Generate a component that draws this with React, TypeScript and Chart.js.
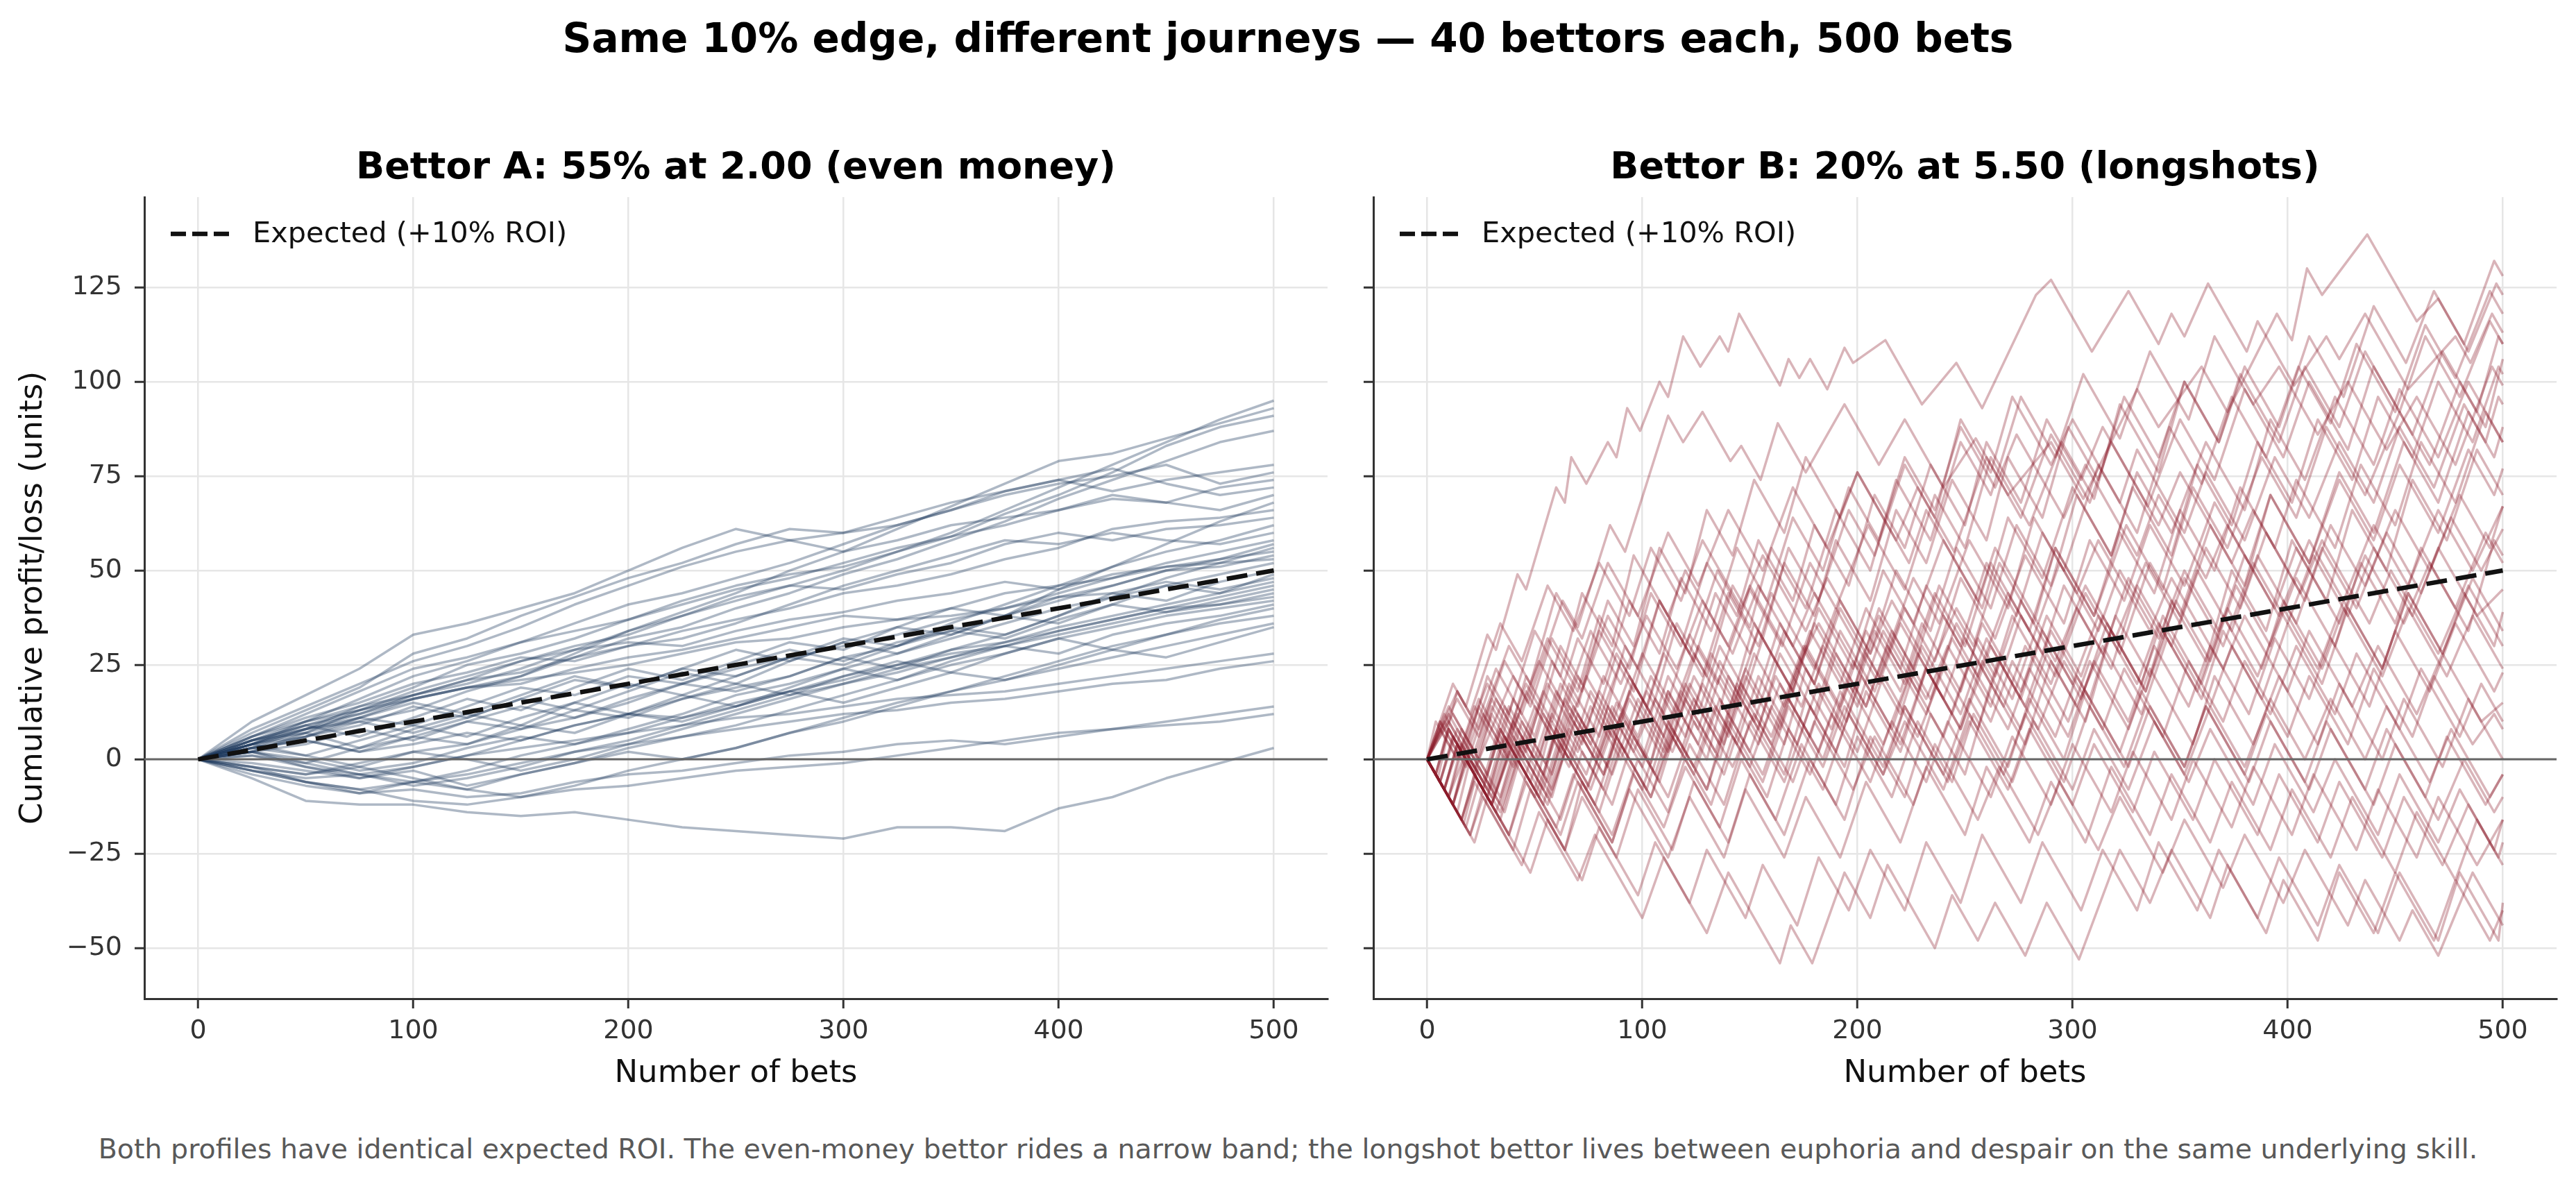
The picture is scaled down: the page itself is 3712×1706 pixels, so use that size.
import React, { useEffect, useRef } from "react";
import { Chart, registerables } from "chart.js";

Chart.register(...registerables);

const FONT = "'DejaVu Sans', 'Liberation Sans', Arial, sans-serif";

// ---------- text ----------
const SUPTITLE = "Same 10% edge, different journeys \u2014 40 bettors each, 500 bets";
const TITLE_A = "Bettor A: 55% at 2.00 (even money)";
const TITLE_B = "Bettor B: 20% at 5.50 (longshots)";
const X_LABEL = "Number of bets";
const Y_LABEL = "Cumulative profit/loss (units)";
const LEGEND_LABEL = "Expected (+10% ROI)";
const FOOTER =
  "Both profiles have identical expected ROI. The even-money bettor rides a narrow band; the longshot bettor lives between euphoria and despair on the same underlying skill.";

// ---------- axes ----------
const xTicks = [0, 100, 200, 300, 400, 500];
const yTicks = [-50, -25, 0, 25, 50, 75, 100, 125];
const xLimits = [-25, 525];
const yLimits = [-63.4, 148.9];

// ---------- expected line ----------
const expectedBets = [0, 500];
const expectedProfit = [0, 50];

// ---------- Bettor A (even money): profit read every 25 bets ----------
const betsA = [0, 25, 50, 75, 100, 125, 150, 175, 200, 225, 250, 275, 300, 325, 350, 375, 400, 425, 450, 475, 500];
const pathsA = [
  [0, 4, 9, 12, 17, 21, 26, 30, 33, 38, 42, 46, 50, 55, 60, 66, 72, 78, 84, 90, 95],
  [0, 3, 6, 11, 16, 19, 22, 28, 34, 39, 44, 50, 55, 61, 67, 73, 79, 81, 85, 89, 93],
  [0, 6, 12, 18, 24, 27, 31, 34, 37, 41, 45, 48, 52, 56, 59, 65, 70, 76, 83, 88, 91],
  [0, 5, 8, 10, 13, 18, 22, 27, 32, 35, 40, 44, 49, 53, 58, 63, 69, 74, 79, 84, 87],
  [0, 8, 14, 20, 26, 30, 35, 41, 46, 51, 55, 58, 60, 64, 68, 71, 74, 71, 74, 76, 78],
  [0, 7, 13, 19, 28, 32, 38, 43, 48, 52, 57, 61, 60, 62, 66, 70, 73, 75, 78, 73, 76],
  [0, 10, 17, 24, 33, 36, 40, 44, 50, 56, 61, 58, 55, 58, 62, 64, 66, 70, 68, 72, 74],
  [0, 4, 10, 16, 22, 26, 31, 36, 41, 44, 48, 52, 57, 62, 66, 71, 74, 77, 73, 70, 72],
  [0, 3, 8, 14, 19, 25, 28, 32, 37, 42, 46, 49, 51, 55, 59, 62, 66, 69, 68, 66, 70],
  [0, 5, 9, 6, 11, 16, 13, 19, 24, 21, 26, 31, 29, 35, 40, 38, 45, 51, 57, 63, 68],
  [0, 6, 11, 15, 20, 23, 27, 26, 30, 34, 37, 40, 44, 46, 49, 53, 56, 61, 63, 64, 66],
  [0, 2, 7, 13, 17, 20, 24, 29, 34, 38, 43, 46, 45, 49, 52, 57, 60, 58, 61, 62, 64],
  [0, 4, 6, 9, 14, 11, 16, 21, 19, 24, 22, 27, 32, 30, 36, 41, 46, 51, 55, 58, 62],
  [0, 6, 10, 14, 17, 21, 23, 27, 30, 32, 36, 41, 46, 50, 54, 58, 57, 60, 58, 57, 60],
  [0, 3, 1, -2, 2, 4, 8, 11, 15, 20, 24, 27, 30, 33, 37, 40, 44, 48, 52, 55, 58],
  [0, 5, 7, 11, 15, 12, 17, 22, 19, 24, 29, 26, 31, 35, 33, 38, 43, 46, 50, 53, 57],
  [0, 2, 4, 8, 5, 10, 14, 11, 16, 20, 18, 22, 27, 24, 29, 33, 38, 43, 48, 52, 56],
  [0, 4, 8, 12, 16, 19, 20, 24, 27, 29, 32, 35, 38, 37, 40, 44, 46, 48, 51, 53, 55],
  [0, -1, -3, -5, -2, 1, 5, 9, 12, 16, 19, 22, 27, 30, 34, 38, 42, 46, 50, 51, 54],
  [0, 5, 9, 13, 18, 22, 26, 29, 31, 30, 34, 37, 39, 42, 44, 47, 45, 49, 51, 52, 53],
  [0, 2, -2, -4, -6, -3, 1, 4, 8, 12, 17, 20, 24, 28, 32, 36, 40, 43, 46, 49, 52],
  [0, 4, 7, 3, 8, 12, 9, 15, 20, 17, 22, 27, 25, 30, 35, 33, 38, 44, 42, 47, 50],
  [0, 2, 6, 10, 7, 11, 16, 13, 18, 23, 20, 26, 31, 28, 33, 38, 36, 41, 46, 44, 49],
  [0, 5, 10, 13, 16, 19, 21, 23, 25, 28, 31, 32, 35, 37, 38, 40, 43, 44, 47, 45, 48],
  [0, -2, -4, -1, 2, 0, -3, 0, 4, 8, 12, 16, 20, 23, 27, 31, 35, 38, 41, 44, 47],
  [0, 1, -1, -4, -7, -5, -2, 2, 5, 9, 13, 17, 20, 24, 27, 30, 34, 37, 40, 43, 46],
  [0, 4, 8, 11, 9, 14, 19, 17, 22, 20, 25, 29, 26, 31, 34, 32, 37, 41, 39, 42, 45],
  [0, 2, 0, -3, -1, 3, 6, 4, 7, 11, 15, 18, 21, 25, 29, 31, 34, 37, 40, 41, 44],
  [0, 3, 5, 2, 4, 7, 5, 9, 12, 11, 14, 18, 22, 25, 28, 30, 33, 36, 39, 41, 43],
  [0, -3, -6, -9, -6, -8, -4, -1, 3, 6, 9, 13, 17, 21, 25, 28, 32, 35, 38, 40, 42],
  [0, 4, 1, 5, 9, 6, 11, 15, 12, 17, 14, 19, 24, 21, 26, 30, 28, 33, 36, 38, 41],
  [0, -2, -4, -2, -5, -8, -10, -7, -3, 0, 3, 7, 11, 15, 18, 22, 26, 30, 33, 37, 40],
  [0, 3, 5, 2, 6, 10, 8, 13, 11, 16, 20, 17, 22, 26, 23, 28, 32, 29, 33, 36, 38],
  [0, 1, -2, -5, -3, -7, -4, -1, 2, 0, 3, 7, 10, 14, 18, 21, 24, 27, 30, 33, 36],
  [0, 2, -1, 3, 6, 4, 9, 7, 12, 10, 14, 18, 15, 19, 23, 21, 25, 29, 27, 31, 35],
  [0, -3, -5, -4, -2, 1, 3, 5, 7, 9, 11, 12, 14, 16, 17, 18, 20, 22, 24, 26, 28],
  [0, -2, -6, -8, -6, -4, -1, 2, 4, 6, 8, 10, 12, 13, 15, 16, 18, 20, 21, 24, 26],
  [0, -4, -7, -9, -8, -10, -9, -6, -4, -3, -1, 1, 2, 4, 5, 4, 6, 8, 10, 12, 14],
  [0, -3, -6, -8, -11, -12, -10, -8, -7, -5, -3, -2, -1, 1, 3, 5, 7, 8, 9, 10, 12],
  [0, -5, -11, -12, -12, -14, -15, -14, -16, -18, -19, -20, -21, -18, -18, -19, -13, -10, -5, -1, 3],
];

// ---------- Bettor B (longshots): turning points as [bet, profit, bet, profit, ...] ----------
const pathsB = [
  [0,0, 4,-4, 14,18, 18,14, 28,33, 32,29, 42,49, 46,45, 60,72, 64,68, 67,80, 74,73, 84,84, 88,80, 93,93, 99,87, 108,100, 112,96, 119,112, 127,104, 136,112, 140,108, 145,118, 164,99, 168,106, 173,101, 178,106, 186,98, 194,109, 198,105, 213,111, 230,94, 246,105, 258,93, 283,123, 290,127, 309,108, 326,124, 340,110, 346,118, 352,112, 363,126, 381,108, 386,116, 403,99, 418,112, 424,106, 436,118, 456,98, 478,112, 485,105, 495,118, 500,113],
  [0,0, 8,-8, 15,4, 22,-3, 40,22, 47,15, 63,42, 70,35, 85,62, 92,55, 112,91, 119,84, 128,92, 141,79, 146,83, 155,74, 163,89, 176,76, 194,94, 210,78, 222,90, 240,72, 255,85, 270,70, 290,84, 305,69, 330,98, 340,88, 360,104, 372,92, 395,118, 402,111, 409,130, 416,123, 437,139, 460,116, 470,122, 482,110, 496,132, 500,128],
  [0,0, 12,-12, 18,2, 30,-10, 42,12, 55,-1, 66,20, 80,6, 92,30, 110,12, 122,33, 135,20, 150,45, 165,30, 178,52, 190,40, 205,62, 222,45, 236,70, 250,56, 262,80, 280,62, 295,84, 310,69, 322,94, 340,76, 352,100, 368,84, 380,104, 396,88, 410,112, 426,96, 440,120, 455,105, 468,124, 484,108, 497,126, 500,123],
  [0,0, 5,-5, 10,8, 28,-10, 36,6, 52,-10, 60,8, 75,-7, 88,15, 104,-1, 112,18, 130,0, 140,22, 152,10, 166,34, 180,20, 192,40, 210,22, 226,48, 238,36, 252,58, 270,40, 282,64, 296,50, 312,78, 330,60, 345,88, 360,73, 374,96, 390,80, 405,104, 420,89, 432,110, 450,92, 464,115, 478,101, 494,124, 500,118],
  [0,0, 14,18, 24,8, 38,30, 48,20, 60,44, 72,32, 84,52, 98,38, 112,60, 126,46, 140,66, 156,50, 170,72, 186,56, 200,76, 218,58, 228,72, 245,55, 260,80, 276,64, 290,86, 308,68, 318,84, 335,67, 350,90, 366,74, 380,98, 398,80, 410,100, 428,82, 440,104, 458,86, 472,108, 488,92, 498,112, 500,110],
  [0,0, 20,-20, 26,-8, 34,-16, 44,4, 58,-10, 68,10, 82,-4, 90,12, 108,-6, 120,16, 136,0, 146,20, 160,6, 175,30, 195,10, 208,34, 222,20, 236,44, 250,30, 262,52, 280,34, 292,56, 310,38, 325,62, 342,45, 356,72, 372,56, 388,80, 404,64, 418,88, 436,70, 452,92, 466,78, 480,100, 492,88, 500,106],
  [0,0, 10,10, 22,-2, 32,16, 46,2, 58,26, 70,14, 80,34, 96,18, 108,42, 122,28, 135,50, 150,35, 160,56, 176,40, 190,66, 206,50, 218,74, 234,58, 248,84, 262,70, 276,96, 292,80, 305,102, 322,85, 336,108, 354,90, 366,112, 384,94, 396,104, 414,86, 428,100, 446,82, 460,96, 478,78, 495,104, 500,99],
  [0,0, 6,-6, 12,6, 30,-12, 40,6, 54,-8, 66,14, 80,0, 94,22, 110,6, 124,28, 140,12, 152,36, 170,18, 182,40, 198,24, 212,50, 226,36, 240,58, 258,40, 270,64, 286,48, 300,72, 318,54, 330,76, 346,60, 362,84, 380,66, 392,90, 408,74, 422,96, 440,78, 452,98, 470,80, 484,100, 500,84],
  [0,0, 8,12, 18,2, 28,22, 38,12, 50,34, 62,22, 72,44, 86,30, 96,54, 112,38, 120,50, 140,30, 150,46, 172,24, 182,36, 204,14, 214,30, 232,12, 244,32, 262,14, 276,38, 292,22, 306,44, 322,28, 336,52, 350,38, 364,62, 380,46, 392,70, 410,52, 424,76, 440,60, 454,84, 470,68, 484,92, 492,84, 498,96, 500,94],
  [0,0, 16,-16, 22,-4, 30,-12, 42,8, 54,-4, 64,16, 76,4, 90,26, 104,12, 116,36, 130,22, 142,46, 156,32, 168,56, 182,42, 196,66, 208,54, 222,78, 236,64, 248,90, 262,76, 272,96, 290,78, 300,90, 322,68, 330,82, 352,60, 362,76, 380,58, 394,80, 410,64, 424,84, 440,68, 452,88, 468,72, 482,94, 496,80, 500,88],
  [0,0, 10,-10, 16,4, 26,-6, 36,14, 50,0, 60,18, 78,0, 86,14, 100,0, 112,22, 126,8, 136,26, 154,8, 164,28, 180,12, 192,34, 208,18, 222,40, 236,26, 248,48, 264,32, 278,54, 296,36, 308,58, 324,42, 336,62, 352,46, 366,68, 382,52, 392,70, 410,52, 424,74, 440,58, 452,78, 470,60, 484,82, 496,70, 500,77],
  [0,0, 12,20, 20,12, 34,36, 44,26, 56,46, 68,34, 80,52, 94,38, 104,56, 118,42, 128,58, 146,40, 156,54, 176,34, 186,48, 206,28, 216,42, 234,24, 246,40, 264,22, 276,42, 292,26, 306,46, 320,32, 334,52, 350,36, 362,56, 378,40, 390,60, 408,42, 420,62, 436,46, 450,66, 466,50, 480,70, 494,56, 500,67],
  [0,0, 14,-14, 20,0, 28,-8, 40,16, 50,6, 62,30, 72,20, 84,42, 96,30, 108,56, 120,44, 130,66, 142,54, 152,74, 166,60, 176,80, 192,64, 200,76, 224,52, 232,66, 256,42, 264,56, 284,36, 294,52, 312,34, 322,50, 340,32, 352,50, 368,34, 380,54, 396,38, 410,58, 426,42, 440,62, 456,46, 470,66, 486,50, 500,67],
  [0,0, 8,-8, 14,4, 30,-12, 38,2, 50,-10, 60,6, 74,-8, 84,8, 100,-8, 110,10, 124,-4, 136,16, 150,2, 162,22, 178,6, 190,28, 204,14, 216,34, 234,16, 246,36, 262,20, 272,38, 290,20, 302,40, 318,24, 330,46, 346,30, 358,50, 374,34, 386,54, 404,36, 416,56, 432,40, 446,60, 462,44, 476,64, 490,50, 500,61],
  [0,0, 20,-20, 26,-10, 40,-24, 48,-8, 64,-24, 72,-6, 86,-20, 98,0, 112,-14, 122,4, 138,-12, 150,10, 166,-6, 178,14, 194,-2, 204,18, 220,2, 232,24, 248,8, 262,30, 278,14, 290,34, 308,16, 320,38, 336,22, 348,42, 364,26, 376,46, 392,30, 404,48, 422,30, 434,52, 450,36, 462,56, 478,40, 492,60, 500,52],
  [0,0, 6,10, 16,0, 24,14, 36,2, 46,22, 58,10, 70,32, 82,20, 94,42, 108,28, 118,48, 132,34, 144,56, 158,42, 170,64, 184,50, 196,72, 210,58, 222,80, 236,66, 248,88, 264,72, 274,86, 296,64, 306,78, 330,54, 340,70, 362,48, 372,62, 394,40, 404,56, 424,36, 436,54, 454,36, 466,52, 484,34, 496,58, 500,54],
  [0,0, 12,-12, 18,0, 32,-14, 42,4, 56,-10, 66,8, 82,-8, 92,10, 106,-4, 118,18, 134,2, 144,20, 160,4, 172,24, 188,8, 198,26, 216,8, 228,28, 244,12, 256,32, 272,16, 284,36, 300,20, 312,38, 330,20, 340,36, 358,18, 370,38, 386,22, 398,40, 414,24, 426,42, 444,24, 456,44, 472,28, 486,48, 500,34],
  [0,0, 4,-4, 10,8, 22,-4, 30,12, 46,-4, 54,12, 66,0, 76,18, 92,2, 104,22, 120,6, 132,28, 146,14, 156,32, 174,14, 184,30, 200,14, 212,34, 228,18, 240,38, 256,22, 270,44, 286,28, 296,46, 314,28, 326,48, 342,32, 352,48, 370,30, 384,52, 400,36, 412,54, 428,38, 440,56, 458,38, 470,56, 488,38, 500,45],
  [0,0, 16,-16, 24,-2, 36,-14, 44,2, 62,-16, 72,2, 86,-12, 96,6, 112,-10, 124,10, 138,-4, 148,14, 166,-4, 176,16, 190,2, 202,22, 220,4, 232,24, 248,8, 258,26, 276,8, 288,28, 302,14, 314,30, 332,12, 344,32, 360,16, 370,34, 388,16, 400,36, 416,20, 428,40, 444,24, 456,44, 472,28, 484,46, 500,30],
  [0,0, 10,14, 20,4, 32,24, 44,12, 56,32, 70,18, 80,38, 94,24, 104,44, 118,30, 130,52, 144,38, 154,58, 170,42, 180,62, 196,46, 208,70, 222,56, 234,78, 250,62, 260,84, 276,68, 288,90, 304,74, 314,88, 340,62, 350,76, 374,52, 384,66, 406,44, 416,58, 438,36, 448,50, 470,28, 482,44, 496,30, 500,39],
  [0,0, 8,-8, 14,4, 28,-10, 36,6, 54,-12, 62,4, 78,-12, 88,6, 104,-10, 114,8, 130,-8, 140,12, 156,-4, 168,16, 184,0, 196,20, 212,4, 224,22, 240,6, 252,26, 270,8, 280,24, 298,6, 310,26, 326,10, 338,30, 354,14, 364,30, 382,12, 394,32, 410,16, 420,32, 438,14, 450,34, 466,18, 478,36, 496,18, 500,23],
  [0,0, 12,-12, 20,2, 34,-12, 44,6, 58,-8, 70,12, 86,-4, 98,16, 112,2, 124,22, 140,6, 152,28, 166,14, 178,34, 192,20, 204,40, 220,24, 232,46, 248,30, 260,52, 274,38, 286,60, 302,44, 312,58, 336,34, 346,48, 370,24, 380,38, 400,18, 410,34, 430,14, 442,30, 460,12, 472,28, 490,10, 500,15],
  [0,0, 6,10, 18,-2, 26,12, 40,-2, 50,14, 66,-2, 76,14, 90,0, 102,18, 118,2, 128,20, 144,4, 154,22, 172,4, 182,20, 200,2, 212,22, 228,6, 240,24, 256,8, 266,26, 284,8, 296,26, 314,8, 324,24, 342,6, 354,26, 370,10, 380,26, 400,6, 410,22, 428,4, 440,24, 458,6, 468,22, 486,4, 496,12, 500,8],
  [0,0, 14,16, 24,6, 36,26, 48,14, 58,32, 72,18, 84,38, 98,24, 108,42, 124,26, 134,44, 150,28, 160,44, 180,24, 190,40, 210,20, 220,36, 240,16, 250,32, 268,14, 278,30, 298,10, 308,26, 326,8, 336,24, 356,4, 366,22, 384,4, 396,22, 414,4, 424,20, 444,0, 454,16, 472,-2, 484,16, 500,0],
  [0,0, 10,-10, 16,2, 30,-12, 40,4, 56,-12, 64,2, 80,-14, 90,4, 104,-10, 114,6, 132,-12, 142,6, 158,-10, 168,8, 184,-8, 196,12, 212,-4, 222,10, 240,-8, 252,12, 268,-4, 278,12, 296,-6, 308,14, 324,-2, 334,14, 352,-4, 364,14, 380,-2, 392,16, 408,0, 420,16, 436,0, 446,14, 466,-6, 476,8, 494,-10, 500,-4],
  [0,0, 8,10, 16,2, 28,20, 40,8, 52,26, 64,14, 76,34, 90,20, 102,38, 116,24, 128,42, 142,28, 154,46, 170,30, 180,44, 200,24, 210,38, 232,16, 242,30, 262,10, 272,26, 292,6, 302,22, 322,2, 332,18, 352,-2, 362,14, 382,-6, 392,10, 410,-8, 420,8, 440,-12, 450,4, 470,-16, 482,0, 496,-14, 500,-10],
  [0,0, 18,-18, 24,-6, 38,-20, 46,-4, 62,-20, 70,-6, 86,-22, 96,-4, 110,-18, 120,-2, 136,-18, 146,0, 162,-16, 174,4, 190,-12, 200,6, 216,-10, 228,10, 244,-6, 254,12, 272,-6, 282,10, 300,-8, 310,8, 326,-8, 338,10, 354,-6, 364,8, 384,-12, 394,4, 412,-14, 422,0, 442,-20, 452,-4, 470,-22, 480,-8, 496,-24, 500,-16],
  [0,0, 6,-6, 12,6, 26,-8, 34,8, 48,-6, 58,12, 74,-4, 84,14, 100,-2, 112,18, 126,4, 136,22, 154,4, 164,20, 182,2, 192,18, 212,-2, 222,14, 242,-6, 252,10, 270,-8, 280,8, 300,-12, 310,4, 328,-14, 338,2, 356,-16, 366,0, 386,-20, 396,-4, 414,-22, 424,-6, 444,-26, 454,-10, 472,-28, 484,-12, 500,-28],
  [0,0, 17,-17, 22,-6, 44,-28, 52,-14, 70,-32, 78,-20, 100,-42, 110,-26, 130,-46, 140,-30, 164,-54, 169,-44, 179,-54, 194,-30, 206,-42, 214,-28, 236,-50, 244,-36, 256,-48, 264,-38, 278,-52, 288,-38, 303,-53, 322,-24, 336,-38, 346,-24, 364,-42, 372,-28, 390,-46, 398,-32, 414,-48, 424,-30, 440,-46, 450,-30, 468,-48, 478,-32, 494,-48, 500,-40],
  [0,0, 6,8, 14,0, 24,16, 36,4, 46,20, 60,6, 70,22, 86,6, 96,20, 114,2, 124,16, 142,-2, 152,12, 170,-6, 180,10, 198,-8, 208,6, 226,-12, 236,4, 256,-16, 266,-2, 284,-20, 294,-6, 312,-24, 322,-10, 342,-30, 352,-16, 370,-34, 380,-20, 398,-38, 408,-24, 428,-44, 436,-32, 452,-48, 458,-40, 470,-52, 486,-30, 500,-44],
  [0,0, 22,-22, 28,-10, 48,-30, 56,-16, 72,-32, 80,-18, 98,-36, 106,-22, 122,-38, 130,-24, 148,-42, 156,-28, 172,-44, 182,-26, 196,-40, 206,-24, 222,-40, 232,-22, 248,-38, 258,-20, 276,-38, 286,-22, 304,-40, 314,-24, 330,-40, 340,-22, 358,-40, 368,-24, 386,-42, 396,-26, 414,-44, 424,-28, 442,-46, 452,-30, 470,-48, 480,-30, 498,-48, 500,-38],
  [0,0, 10,-10, 18,2, 34,-14, 42,0, 60,-18, 68,-4, 86,-22, 94,-8, 112,-26, 122,-10, 138,-26, 148,-8, 166,-26, 176,-10, 192,-26, 204,-6, 220,-22, 232,-2, 250,-20, 260,-2, 280,-22, 290,-6, 306,-22, 318,-2, 336,-20, 346,-4, 364,-22, 374,-6, 392,-24, 402,-8, 420,-26, 430,-10, 450,-30, 460,-14, 478,-32, 488,-16, 498,-26, 500,-22],
  [0,0, 12,12, 22,2, 30,16, 44,2, 54,18, 70,2, 80,18, 96,2, 106,16, 124,-2, 134,14, 150,-2, 160,14, 178,-4, 188,12, 206,-6, 216,10, 232,-6, 242,10, 262,-10, 272,6, 290,-12, 300,4, 318,-14, 328,2, 346,-16, 356,0, 374,-18, 384,-2, 402,-20, 412,-4, 432,-24, 442,-8, 460,-26, 470,-10, 488,-28, 500,-16],
  [0,0, 4,-4, 10,8, 26,-8, 34,8, 50,-8, 58,10, 76,-8, 86,8, 102,-8, 112,10, 130,-8, 140,10, 156,-6, 168,14, 184,-2, 194,14, 212,-4, 222,14, 240,-4, 252,16, 270,-2, 280,16, 296,0, 306,18, 326,-2, 336,14, 352,-2, 362,14, 380,-4, 390,12, 408,-6, 418,10, 436,-8, 446,8, 464,-10, 474,6, 492,-12, 500,-4],
  [0,0, 16,-16, 22,-4, 38,-20, 46,-6, 64,-24, 72,-10, 88,-26, 98,-8, 114,-24, 124,-6, 140,-22, 150,-4, 166,-20, 178,0, 194,-16, 206,6, 222,-10, 234,12, 250,-4, 262,20, 278,4, 290,26, 306,10, 318,34, 334,18, 346,42, 362,26, 374,50, 390,34, 402,58, 418,42, 430,66, 446,50, 458,74, 474,58, 488,82, 500,70],
  [0,0, 10,12, 22,0, 30,14, 44,0, 56,20, 72,4, 82,22, 98,6, 110,28, 126,12, 136,30, 152,14, 164,36, 180,20, 192,42, 206,28, 218,50, 234,34, 246,56, 262,40, 274,62, 290,46, 302,70, 318,54, 328,72, 346,54, 358,78, 374,62, 386,84, 402,68, 414,90, 430,74, 442,96, 458,80, 470,100, 486,84, 498,104, 500,102],
  [0,0, 8,-8, 16,8, 28,-4, 38,14, 52,0, 62,20, 76,6, 88,28, 102,14, 114,36, 128,22, 140,44, 154,30, 166,52, 180,38, 190,58, 206,42, 218,66, 232,52, 244,74, 260,58, 270,80, 286,64, 298,88, 312,74, 324,96, 340,80, 352,100, 368,84, 378,102, 396,84, 408,104, 424,88, 436,108, 452,92, 464,112, 480,96, 494,116, 500,110],
  [0,0, 12,-12, 20,4, 34,-10, 44,10, 58,-4, 68,14, 84,-2, 94,18, 110,2, 120,20, 136,4, 148,24, 164,8, 176,30, 192,14, 204,34, 220,18, 230,36, 248,18, 258,36, 276,18, 288,38, 304,22, 314,38, 334,18, 344,34, 364,14, 374,30, 392,12, 404,30, 422,12, 432,28, 452,8, 462,24, 480,6, 490,20, 500,10],
  [0,0, 4,10, 14,0, 22,14, 36,0, 46,18, 62,2, 74,22, 88,8, 100,28, 116,12, 126,30, 142,14, 154,34, 170,18, 180,36, 198,18, 210,40, 226,24, 238,46, 254,30, 266,52, 282,36, 292,56, 310,38, 322,60, 338,44, 350,66, 366,50, 378,72, 394,56, 404,74, 422,56, 434,78, 450,62, 462,84, 478,68, 492,92, 500,84],
  [0,0, 6,-6, 14,8, 30,-8, 40,10, 56,-6, 66,12, 82,-4, 94,16, 110,0, 122,20, 138,4, 148,22, 166,4, 176,24, 192,8, 204,28, 220,12, 230,30, 248,12, 260,32, 276,16, 286,34, 304,16, 316,36, 332,20, 342,38, 360,20, 372,40, 388,24, 398,42, 416,24, 426,40, 444,22, 456,40, 474,22, 486,38, 500,24],
];

// ---------- styling ----------
const COLOR_A = "rgba(31,58,95,0.36)";
const COLOR_B = "rgba(139,26,43,0.33)";
const CANVAS_TOP = 200;
const CANVAS_H = 1420;

type Pt = { x: number; y: number };

function seriesFromRegular(xs: number[], ys: number[]): Pt[] {
  return xs.map((x, i) => ({ x, y: ys[i] }));
}
function seriesFromPairs(flat: number[]): Pt[] {
  const out: Pt[] = [];
  for (let i = 0; i < flat.length; i += 2) out.push({ x: flat[i], y: flat[i + 1] });
  return out;
}
const fmt = (v: number) => (v < 0 ? "\u2212" + Math.abs(v) : String(v));

const legendPlugin = {
  id: "expLegend",
  afterDraw(chart: any) {
    const { ctx, chartArea } = chart;
    const y = chartArea.top + 53;
    ctx.save();
    ctx.strokeStyle = "#111111";
    ctx.lineWidth = 6.5;
    ctx.lineCap = "butt";
    ctx.setLineDash([22, 9]);
    ctx.beginPath();
    ctx.moveTo(chartArea.left + 38, y);
    ctx.lineTo(chartArea.left + 122, y);
    ctx.stroke();
    ctx.setLineDash([]);
    ctx.fillStyle = "#111111";
    ctx.font = `41.5px ${FONT}`;
    ctx.textAlign = "left";
    ctx.textBaseline = "middle";
    ctx.fillText(LEGEND_LABEL, chartArea.left + 156, y + 1);
    ctx.restore();
  },
};

type PanelProps = {
  left: number;
  width: number;
  series: Pt[][];
  color: string;
  lw: number;
  yAxisWidth: number;
  padRight: number;
  showYLabels: boolean;
};

function Panel(props: PanelProps) {
  const ref = useRef<HTMLCanvasElement | null>(null);
  useEffect(() => {
    const canvas = ref.current;
    if (!canvas) return;
    const expected: Pt[] = expectedBets.map((b, i) => ({ x: b, y: expectedProfit[i] }));
    const zero: Pt[] = xLimits.map((b) => ({ x: b, y: 0 }));
    const datasets: any[] = [
      {
        data: expected,
        borderColor: "#111111",
        borderWidth: 6.5,
        borderDash: [30, 13],
        borderCapStyle: "butt",
        pointRadius: 0,
        fill: false,
        tension: 0,
      },
      {
        data: zero,
        borderColor: "#666666",
        borderWidth: 3,
        pointRadius: 0,
        fill: false,
        tension: 0,
      },
      ...props.series.map((s) => ({
        data: s,
        borderColor: props.color,
        borderWidth: props.lw,
        borderJoinStyle: "round",
        pointRadius: 0,
        fill: false,
        tension: 0,
      })),
    ];
    const gridCommon = {
      color: "#e6e6e6",
      lineWidth: 2.5,
      drawTicks: true,
      tickLength: 14,
      tickColor: "#333333",
      tickWidth: 3,
    };
    const chart = new Chart(canvas, {
      type: "line",
      data: { datasets },
      plugins: [legendPlugin],
      options: {
        animation: false,
        responsive: false,
        devicePixelRatio: 1,
        parsing: false,
        events: [],
        layout: { padding: { left: 0, top: 84, right: props.padRight, bottom: 46 } },
        plugins: { legend: { display: false }, tooltip: { enabled: false }, title: { display: false } },
        scales: {
          x: {
            type: "linear",
            min: xLimits[0],
            max: xLimits[1],
            afterBuildTicks: (s: any) => {
              s.ticks = xTicks.map((v) => ({ value: v }));
            },
            afterFit: (s: any) => {
              s.height = 135;
            },
            grid: gridCommon,
            border: { display: true, color: "#333333", width: 3 },
            ticks: {
              color: "#333333",
              font: { family: FONT, size: 38 },
              padding: 10,
              maxRotation: 0,
              autoSkip: false,
              callback: (v: any) => fmt(Number(v)),
            },
            title: {
              display: true,
              text: X_LABEL,
              color: "#111111",
              font: { family: FONT, size: 45 },
              padding: { top: 0, bottom: 0 },
            },
          },
          y: {
            type: "linear",
            min: yLimits[0],
            max: yLimits[1],
            afterBuildTicks: (s: any) => {
              s.ticks = yTicks.map((v) => ({ value: v }));
            },
            afterFit: (s: any) => {
              s.width = props.yAxisWidth;
            },
            grid: gridCommon,
            border: { display: true, color: "#333333", width: 3 },
            ticks: {
              color: "#333333",
              font: { family: FONT, size: 38 },
              padding: 18,
              autoSkip: false,
              callback: (v: any) => (props.showYLabels ? fmt(Number(v)) : ""),
            },
            title: {
              display: props.showYLabels,
              text: Y_LABEL,
              color: "#111111",
              font: { family: FONT, size: 45 },
              padding: { top: 21, bottom: 0 },
            },
          },
        },
      } as any,
    });
    return () => chart.destroy();
  }, []);
  return (
    <canvas
      ref={ref}
      width={props.width}
      height={CANVAS_H}
      style={{ position: "absolute", left: props.left, top: CANVAS_TOP, width: props.width, height: CANVAS_H }}
    />
  );
}

export default function App() {
  const seriesA = pathsA.map((p) => seriesFromRegular(betsA, p));
  const seriesB = pathsB.map((p) => seriesFromPairs(p));
  const textBase: React.CSSProperties = {
    position: "absolute",
    fontFamily: FONT,
    whiteSpace: "nowrap",
    textAlign: "center",
    margin: 0,
  };
  return (
    <div
      style={{
        position: "absolute",
        left: 0,
        top: 0,
        width: 3712,
        height: 1706,
        background: "#ffffff",
        overflow: "hidden",
      }}
    >
      <div style={{ ...textBase, left: 0, width: 3712, top: 26, fontSize: 58, lineHeight: "58px", fontWeight: "bold", color: "#000" }}>
        {SUPTITLE}
      </div>
      <div style={{ ...textBase, left: 208, width: 1705, top: 212, fontSize: 54, lineHeight: "54px", fontWeight: "bold", color: "#000" }}>
        {TITLE_A}
      </div>
      <div style={{ ...textBase, left: 1979, width: 1705, top: 212, fontSize: 54, lineHeight: "54px", fontWeight: "bold", color: "#000" }}>
        {TITLE_B}
      </div>
      <Panel left={0} width={1946} series={seriesA} color={COLOR_A} lw={3.5} yAxisWidth={208} padRight={33} showYLabels={true} />
      <Panel left={1946} width={1766} series={seriesB} color={COLOR_B} lw={3.5} yAxisWidth={33} padRight={28} showYLabels={false} />
      <div style={{ ...textBase, left: 0, width: 3712, top: 1636, fontSize: 39.5, lineHeight: "39.5px", color: "#595959" }}>
        {FOOTER}
      </div>
    </div>
  );
}
